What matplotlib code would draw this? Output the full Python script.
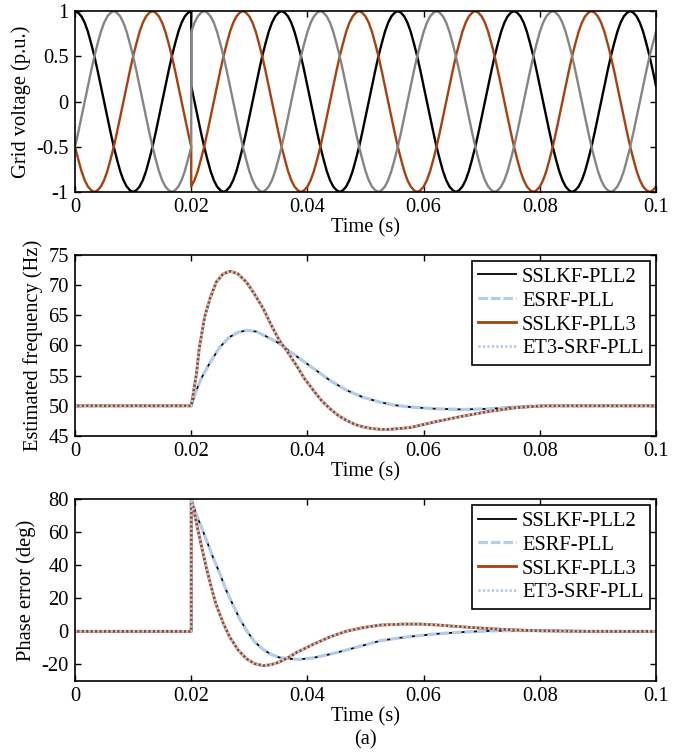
import numpy as np
import matplotlib
matplotlib.use('Agg')
import matplotlib.pyplot as plt

plt.rcParams['font.family'] = ['Liberation Serif', 'DejaVu Serif']
plt.rcParams['font.size'] = 14.8
plt.rcParams['axes.unicode_minus'] = False

# ---- grid voltage, sampled every 10 deg (phase jump at 0.02 s) ----
t_before = np.linspace(0, 0.02, 37)
t_after = np.linspace(0.02, 0.1, 145)

va_before = [1.0, 0.98, 0.94, 0.87, 0.77, 0.64, 0.5, 0.34, 0.17, 0.0, -0.17, -0.34, -0.5, -0.64, -0.77, -0.87, -0.94, -0.98,
             -1.0, -0.98, -0.94, -0.87, -0.77, -0.64, -0.5, -0.34, -0.17, 0.0, 0.17, 0.34, 0.5, 0.64, 0.77, 0.87, 0.94, 0.98,
             1.0]
va_after = [0.17, 0.0, -0.17, -0.34, -0.5, -0.64, -0.77, -0.87, -0.94, -0.98, -1.0, -0.98, -0.94, -0.87, -0.77, -0.64, -0.5, -0.34,
            -0.17, 0.0, 0.17, 0.34, 0.5, 0.64, 0.77, 0.87, 0.94, 0.98, 1.0, 0.98, 0.94, 0.87, 0.77, 0.64, 0.5, 0.34,
            0.17, 0.0, -0.17, -0.34, -0.5, -0.64, -0.77, -0.87, -0.94, -0.98, -1.0, -0.98, -0.94, -0.87, -0.77, -0.64, -0.5, -0.34,
            -0.17, 0.0, 0.17, 0.34, 0.5, 0.64, 0.77, 0.87, 0.94, 0.98, 1.0, 0.98, 0.94, 0.87, 0.77, 0.64, 0.5, 0.34,
            0.17, 0.0, -0.17, -0.34, -0.5, -0.64, -0.77, -0.87, -0.94, -0.98, -1.0, -0.98, -0.94, -0.87, -0.77, -0.64, -0.5, -0.34,
            -0.17, 0.0, 0.17, 0.34, 0.5, 0.64, 0.77, 0.87, 0.94, 0.98, 1.0, 0.98, 0.94, 0.87, 0.77, 0.64, 0.5, 0.34,
            0.17, 0.0, -0.17, -0.34, -0.5, -0.64, -0.77, -0.87, -0.94, -0.98, -1.0, -0.98, -0.94, -0.87, -0.77, -0.64, -0.5, -0.34,
            -0.17, 0.0, 0.17, 0.34, 0.5, 0.64, 0.77, 0.87, 0.94, 0.98, 1.0, 0.98, 0.94, 0.87, 0.77, 0.64, 0.5, 0.34,
            0.17]

vb_before = [-0.5, -0.34, -0.17, 0.0, 0.17, 0.34, 0.5, 0.64, 0.77, 0.87, 0.94, 0.98, 1.0, 0.98, 0.94, 0.87, 0.77, 0.64,
             0.5, 0.34, 0.17, 0.0, -0.17, -0.34, -0.5, -0.64, -0.77, -0.87, -0.94, -0.98, -1.0, -0.98, -0.94, -0.87, -0.77, -0.64,
             -0.5]
vb_after = [0.77, 0.87, 0.94, 0.98, 1.0, 0.98, 0.94, 0.87, 0.77, 0.64, 0.5, 0.34, 0.17, 0.0, -0.17, -0.34, -0.5, -0.64,
            -0.77, -0.87, -0.94, -0.98, -1.0, -0.98, -0.94, -0.87, -0.77, -0.64, -0.5, -0.34, -0.17, 0.0, 0.17, 0.34, 0.5, 0.64,
            0.77, 0.87, 0.94, 0.98, 1.0, 0.98, 0.94, 0.87, 0.77, 0.64, 0.5, 0.34, 0.17, 0.0, -0.17, -0.34, -0.5, -0.64,
            -0.77, -0.87, -0.94, -0.98, -1.0, -0.98, -0.94, -0.87, -0.77, -0.64, -0.5, -0.34, -0.17, 0.0, 0.17, 0.34, 0.5, 0.64,
            0.77, 0.87, 0.94, 0.98, 1.0, 0.98, 0.94, 0.87, 0.77, 0.64, 0.5, 0.34, 0.17, 0.0, -0.17, -0.34, -0.5, -0.64,
            -0.77, -0.87, -0.94, -0.98, -1.0, -0.98, -0.94, -0.87, -0.77, -0.64, -0.5, -0.34, -0.17, 0.0, 0.17, 0.34, 0.5, 0.64,
            0.77, 0.87, 0.94, 0.98, 1.0, 0.98, 0.94, 0.87, 0.77, 0.64, 0.5, 0.34, 0.17, 0.0, -0.17, -0.34, -0.5, -0.64,
            -0.77, -0.87, -0.94, -0.98, -1.0, -0.98, -0.94, -0.87, -0.77, -0.64, -0.5, -0.34, -0.17, 0.0, 0.17, 0.34, 0.5, 0.64,
            0.77]

vc_before = [-0.5, -0.64, -0.77, -0.87, -0.94, -0.98, -1.0, -0.98, -0.94, -0.87, -0.77, -0.64, -0.5, -0.34, -0.17, 0.0, 0.17, 0.34,
             0.5, 0.64, 0.77, 0.87, 0.94, 0.98, 1.0, 0.98, 0.94, 0.87, 0.77, 0.64, 0.5, 0.34, 0.17, 0.0, -0.17, -0.34,
             -0.5]
vc_after = [-0.94, -0.87, -0.77, -0.64, -0.5, -0.34, -0.17, 0.0, 0.17, 0.34, 0.5, 0.64, 0.77, 0.87, 0.94, 0.98, 1.0, 0.98,
            0.94, 0.87, 0.77, 0.64, 0.5, 0.34, 0.17, 0.0, -0.17, -0.34, -0.5, -0.64, -0.77, -0.87, -0.94, -0.98, -1.0, -0.98,
            -0.94, -0.87, -0.77, -0.64, -0.5, -0.34, -0.17, 0.0, 0.17, 0.34, 0.5, 0.64, 0.77, 0.87, 0.94, 0.98, 1.0, 0.98,
            0.94, 0.87, 0.77, 0.64, 0.5, 0.34, 0.17, 0.0, -0.17, -0.34, -0.5, -0.64, -0.77, -0.87, -0.94, -0.98, -1.0, -0.98,
            -0.94, -0.87, -0.77, -0.64, -0.5, -0.34, -0.17, 0.0, 0.17, 0.34, 0.5, 0.64, 0.77, 0.87, 0.94, 0.98, 1.0, 0.98,
            0.94, 0.87, 0.77, 0.64, 0.5, 0.34, 0.17, 0.0, -0.17, -0.34, -0.5, -0.64, -0.77, -0.87, -0.94, -0.98, -1.0, -0.98,
            -0.94, -0.87, -0.77, -0.64, -0.5, -0.34, -0.17, 0.0, 0.17, 0.34, 0.5, 0.64, 0.77, 0.87, 0.94, 0.98, 1.0, 0.98,
            0.94, 0.87, 0.77, 0.64, 0.5, 0.34, 0.17, 0.0, -0.17, -0.34, -0.5, -0.64, -0.77, -0.87, -0.94, -0.98, -1.0, -0.98,
            -0.94]

# ---- estimated frequency (Hz) ----
t_f2 = [0, 0.02, 0.0209, 0.0217, 0.0232, 0.0249, 0.0266, 0.0281, 0.0296, 0.0312, 0.0329, 0.0347, 0.0370,
        0.0393, 0.0416, 0.0439, 0.0467, 0.0496, 0.0525, 0.0550, 0.0577, 0.0622, 0.0668, 0.0714, 0.0749,
        0.0783, 0.0850, 0.1]
f_pll2 = [50, 50, 52.6, 54.5, 57.1, 59.7, 61.4, 62.2, 62.5, 62.3, 61.5, 60.6, 59.0,
          57.4, 55.8, 54.2, 52.6, 51.4, 50.6, 50.1, 49.8, 49.5, 49.4, 49.5, 49.75,
          49.95, 50.0, 50.0]
f_esrf = f_pll2  # visually identical to SSLKF-PLL2

t_f3 = [0, 0.02, 0.0209, 0.0214, 0.0223, 0.0232, 0.0243, 0.0255, 0.0267, 0.0280, 0.0295, 0.0309, 0.0324,
        0.0338, 0.0352, 0.0364, 0.0381, 0.0395, 0.0410, 0.0424, 0.0439, 0.0453, 0.0467, 0.0482, 0.0496,
        0.0510, 0.0525, 0.0542, 0.0577, 0.0622, 0.0668, 0.0714, 0.0760, 0.0806, 0.1]
f_pll3 = [50, 50, 55.3, 59.7, 64.7, 67.7, 70.5, 71.9, 72.3, 71.9, 70.5, 68.5, 66.1,
          63.3, 60.8, 59.2, 56.7, 54.5, 52.6, 50.9, 49.5, 48.4, 47.6, 46.9, 46.5,
          46.25, 46.1, 46.1, 46.4, 47.4, 48.3, 49.1, 49.7, 50.0, 50.0]
f_et3 = f_pll3  # visually identical to SSLKF-PLL3

# ---- phase error (deg) ----
t_p2 = [0, 0.02, 0.02, 0.0209, 0.0217, 0.0226, 0.0237, 0.0249, 0.0260, 0.0272, 0.0283, 0.0295, 0.0309,
        0.0324, 0.0338, 0.0352, 0.0370, 0.0387, 0.0410, 0.0439, 0.0467, 0.0496, 0.0525, 0.0565, 0.0622,
        0.0668, 0.0714, 0.0760, 0.0810, 0.0880, 0.1]
p_pll2 = [0, 0, 80, 70.5, 63.4, 55.3, 45.2, 35.1, 25.0, 15.9, 7.8, 0.7, -6.3,
          -11.0, -14.0, -15.8, -16.6, -16.9, -16.0, -13.8, -11.3, -8.5, -5.7, -3.6, -1.5,
          -0.4, 0.3, 0.5, 0.4, 0.1, 0.0]
p_esrf = p_pll2

t_p3 = [0, 0.02, 0.02, 0.0206, 0.0212, 0.0218, 0.0226, 0.0235, 0.0243, 0.0255, 0.0266, 0.0281, 0.0295,
        0.0309, 0.0324, 0.0338, 0.0352, 0.0367, 0.0381, 0.0410, 0.0439, 0.0467, 0.0496, 0.0525, 0.0565,
        0.0594, 0.0622, 0.0680, 0.0737, 0.0795, 0.0880, 0.1]
p_pll3 = [0, 0, 80, 70.5, 60.5, 51.0, 38.5, 26.0, 16.0, 5.0, -3.3, -11.4, -16.5,
          -19.5, -20.7, -20.1, -18.5, -15.8, -12.8, -7.8, -3.3, 0.1, 2.3, 3.8, 4.4,
          4.4, 3.9, 2.4, 1.2, 0.4, 0.0, 0.0]
p_et3 = p_pll3

labels = ['SSLKF-PLL2', 'ESRF-PLL', 'SSLKF-PLL3', 'ET3-SRF-PLL']
x_ticks = [0, 0.02, 0.04, 0.06, 0.08, 0.1]
x_ticklabels = ['0', '0.02', '0.04', '0.06', '0.08', '0.1']

c_orange = '#A8400F'
c_gray = '#858585'
c_blue = '#B3CDEC'

fig = plt.figure(figsize=(6.79, 7.53), dpi=100)
ax1 = fig.add_axes([0.1105, 0.745, 0.8557, 0.2404])
ax2 = fig.add_axes([0.1105, 0.421, 0.8557, 0.2404])
ax3 = fig.add_axes([0.1105, 0.0956, 0.8557, 0.2417])


def style(ax):
    ax.tick_params(direction='in', top=True, right=True, length=4, width=1, pad=4.5)
    for s in ax.spines.values():
        s.set_linewidth(1.2)
    ax.set_xlim(0, 0.1)
    ax.set_xticks(x_ticks)
    ax.set_xticklabels(x_ticklabels)
    ax.set_xlabel('Time (s)', labelpad=1)


# top
t_v = np.concatenate([t_before, t_after])
ax1.plot(t_v, va_before + va_after, color='black', lw=1.7)
ax1.plot(t_v, vc_before + vc_after, color=c_orange, lw=1.7)
ax1.plot(t_v, vb_before + vb_after, color=c_gray, lw=1.7)
style(ax1)
ax1.set_ylim(-1, 1)
ax1.set_yticks([-1, -0.5, 0, 0.5, 1])
ax1.set_yticklabels(['-1', '-0.5', '0', '0.5', '1'])
ax1.set_ylabel('Grid voltage (p.u.)')


def draw_set(ax, t2, y2, y2b, t3, y3, y3b):
    ax.plot(t2, y2, color='black', lw=1.3, label=labels[0])
    ax.plot(t2, y2b, color=c_blue, lw=2.3, dashes=(3, 0.9), label=labels[1])
    ax.plot(t3, y3, color=c_orange, lw=2.0, label=labels[2])
    ax.plot(t3, y3b, color=c_blue, lw=2.0, dashes=(0.8, 0.8), label=labels[3])
    leg = ax.legend(loc='upper right', fancybox=False, edgecolor='black', framealpha=1,
                    borderpad=0.3, labelspacing=0.22, handlelength=1.85, handletextpad=0.3,
                    borderaxespad=0.3)
    leg.get_frame().set_linewidth(1.2)


draw_set(ax2, t_f2, f_pll2, f_esrf, t_f3, f_pll3, f_et3)
style(ax2)
ax2.set_ylim(45, 75)
ax2.set_yticks([45, 50, 55, 60, 65, 70, 75])
ax2.set_ylabel('Estimated frequency (Hz)')

draw_set(ax3, t_p2, p_pll2, p_esrf, t_p3, p_pll3, p_et3)
style(ax3)
ax3.set_ylim(-30, 80)
ax3.set_yticks([-20, 0, 20, 40, 60, 80])
ax3.set_yticklabels(['-20', '0', '20', '40', '60', '80'])
ax3.set_ylabel('Phase error (deg)')

fig.text(365 / 679, 1 - 740 / 753, '(a)', ha='center', va='center')

fig.savefig('out.png', dpi=100)
